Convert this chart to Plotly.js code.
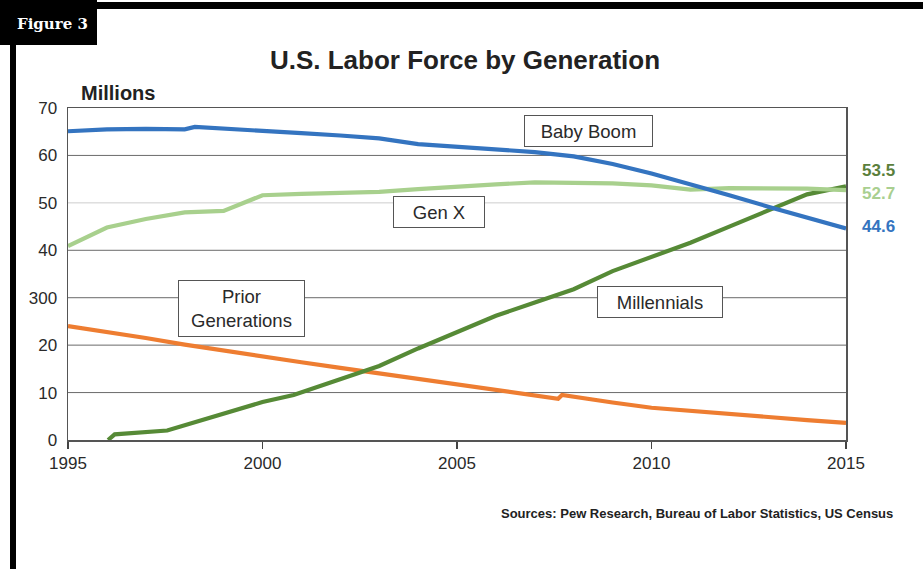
<!DOCTYPE html>
<html>
<head>
<meta charset="utf-8">
<script src="https://cdn.plot.ly/plotly-3.0.1.min.js"></script>
<style>
  html, body { margin: 0; padding: 0; background: #fff; }
  #chart { width: 923px; height: 569px; }
</style>
</head>
<body>
<div id="chart"></div>
<script>
// ---- Data ----
const boomYears   = [1995, 1996, 1997, 1998, 1998.26, 1999, 2000, 2001, 2002, 2003, 2004, 2005, 2006, 2007, 2008, 2009, 2010, 2011, 2012, 2013, 2014, 2015];
const boomValues  = [65.1, 65.5, 65.6, 65.5, 66.0, 65.7, 65.2, 64.7, 64.2, 63.6, 62.4, 61.8, 61.4, 60.7, 59.8, 58.2, 56.2, 54.0, 51.6, 49.2, 46.9, 44.6];

const genxYears   = [1995, 1996, 1997, 1998, 1999, 2000, 2001, 2002, 2003, 2004, 2005, 2006, 2007, 2008, 2009, 2010, 2011, 2012, 2013, 2014, 2015];
const genxValues  = [40.9, 44.8, 46.6, 48.0, 48.3, 51.6, 51.9, 52.1, 52.3, 52.9, 53.5, 53.9, 54.3, 54.3, 54.1, 53.7, 52.8, 53.1, 53.1, 53.0, 52.7];

const millYears   = [1996.03, 1996.2, 1997.55, 2000, 2000.8, 2002.5, 2003, 2004, 2005, 2006, 2007, 2008, 2009, 2010, 2011, 2012, 2013, 2014, 2015];
const millValues  = [0, 1.2, 2.0, 8.0, 9.5, 14.3, 15.6, 19.3, 22.8, 26.2, 29.0, 31.8, 35.6, 38.6, 41.6, 45.0, 48.5, 51.8, 53.5];

const priorYears  = [1995, 1996, 1997, 1998, 1999, 2000, 2001, 2002, 2003, 2004, 2005, 2006, 2007, 2007.6, 2007.7, 2008, 2009, 2010, 2011, 2012, 2013, 2014, 2015];
const priorValues = [24.0, 22.8, 21.5, 20.1, 18.8, 17.5, 16.4, 15.2, 14.0, 12.8, 11.6, 10.4, 9.3, 8.7, 9.5, 9.1, 7.9, 6.8, 6.1, 5.5, 4.8, 4.2, 3.6];

const xTickVals  = [1995, 2000, 2005, 2010, 2015];
const xTickText  = ['1995', '2000', '2005', '2010', '2015'];
const yTickVals  = [0, 10, 20, 30, 40, 50, 60, 70];
const yTickText  = ['0', '10', '20', '300', '40', '50', '60', '70'];
const endLabels  = ['53.5', '52.7', '44.6'];
const seriesNames = ['Baby Boom', 'Gen X', 'Millennials', 'Prior Generations'];

// ---- Styling ----
const C_BOOM = '#3474c0', C_GENX = '#a8d08d', C_MILL = '#568a36', C_PRIOR = '#ee7d31';
const FONT = 'Liberation Sans, Arial, sans-serif';

// pixel -> paper helpers for decorations
const L = 68, R = 846, T = 108, B = 440, W = 923, H = 569;
const fx = px => (px - L) / (R - L);
const fy = py => (B - py) / (B - T);

function line(x, y, color, name) {
  return { x: x, y: y, type: 'scatter', mode: 'lines', name: name,
           line: { color: color, width: 4.2 }, hoverinfo: 'x+y' };
}

const data = [
  line(priorYears, priorValues, C_PRIOR, seriesNames[3]),
  line(millYears, millValues, C_MILL, seriesNames[2]),
  line(genxYears, genxValues, C_GENX, seriesNames[1]),
  line(boomYears, boomValues, C_BOOM, seriesNames[0])
];

const shapes = [];
// gridlines (50 is lighter)
yTickVals.forEach(v => {
  if (v === 0 || v === 70) return;
  shapes.push({ type: 'line', xref: 'paper', x0: 0, x1: 1, yref: 'y', y0: v, y1: v,
    layer: 'below', line: { color: v === 50 ? '#cdcdcd' : '#6a6a6a', width: 1 } });
});
// figure frame decorations
shapes.push({ type: 'rect', xref: 'paper', yref: 'paper', x0: fx(0), x1: fx(W), y0: fy(9), y1: fy(2),
  fillcolor: '#000', line: { width: 0 } });
shapes.push({ type: 'rect', xref: 'paper', yref: 'paper', x0: fx(10), x1: fx(16), y0: fy(H), y1: fy(40),
  fillcolor: '#000', line: { width: 0 } });
shapes.push({ type: 'rect', xref: 'paper', yref: 'paper', x0: fx(0), x1: fx(97), y0: fy(45), y1: fy(0),
  fillcolor: '#000', line: { width: 0 } });

function boxLabel(text, x, y, w, h) {
  return { text: text, x: x, y: y, xref: 'x', yref: 'y', showarrow: false,
    font: { family: FONT, size: 18.5, color: '#2a2a2a' },
    bgcolor: '#fff', bordercolor: '#555', borderwidth: 1, borderpad: 4,
    width: w, height: h, align: 'center', valign: 'middle' };
}

const annotations = [
  boxLabel(seriesNames[0], 2008.37, 65.15, 119, 22),
  boxLabel(seriesNames[1], 2004.54, 48.07, 82, 22),
  boxLabel('Prior<br>Generations', 1999.45, 27.83, 117, 47),
  boxLabel(seriesNames[2], 2010.22, 29.1, 116, 22),
  { text: endLabels[0], x: 2015, y: 56.9, xref: 'x', yref: 'y', xanchor: 'left', xshift: 14, showarrow: false,
    font: { family: FONT, size: 17, color: '#5b7f3c', weight: 'bold' } },
  { text: endLabels[1], x: 2015, y: 51.9, xref: 'x', yref: 'y', xanchor: 'left', xshift: 14, showarrow: false,
    font: { family: FONT, size: 17, color: '#a9cf90', weight: 'bold' } },
  { text: endLabels[2], x: 2015, y: 45.1, xref: 'x', yref: 'y', xanchor: 'left', xshift: 14, showarrow: false,
    font: { family: FONT, size: 17, color: C_BOOM, weight: 'bold' } },
  { text: 'Millions', xref: 'paper', yref: 'paper', x: fx(79), y: fy(93), xanchor: 'left', yanchor: 'middle',
    showarrow: false, font: { family: FONT, size: 20, color: '#222', weight: 'bold' } },
  { text: 'Sources: Pew Research, Bureau of Labor Statistics, US Census', xref: 'paper', yref: 'paper',
    x: fx(895), y: fy(513), xanchor: 'right', yanchor: 'middle', showarrow: false,
    font: { family: FONT, size: 13, color: '#222', weight: 'bold' } },
  { text: 'Figure 3', xref: 'paper', yref: 'paper', x: fx(52), y: fy(24), xanchor: 'center', yanchor: 'middle',
    showarrow: false, font: { family: 'DejaVu Serif, serif', size: 15, color: '#fff', weight: 'bold' } }
];

const layout = {
  width: W, height: H,
  margin: { l: L, r: W - R, t: T, b: H - B, pad: 0 },
  paper_bgcolor: '#fff', plot_bgcolor: 'rgba(0,0,0,0)',
  showlegend: false,
  title: { text: 'U.S. Labor Force by Generation', x: 465 / W, xanchor: 'center',
           y: 1 - 60 / H, yanchor: 'middle', yref: 'container',
           font: { family: FONT, size: 26, color: '#222', weight: 'bold' } },
  xaxis: { range: [1995, 2015], tickvals: xTickVals, ticktext: xTickText,
           showgrid: false, zeroline: false, showline: true, mirror: true,
           linecolor: '#555', linewidth: 1.5, ticks: 'outside', ticklen: 7, tickcolor: '#444', tickwidth: 1.5,
           tickfont: { family: FONT, size: 17, color: '#2a2a2a' } },
  yaxis: { range: [0, 70], tickvals: yTickVals, ticktext: yTickText,
           showgrid: false, zeroline: false, showline: true, mirror: true,
           linecolor: '#555', linewidth: 1.5, ticks: '', ticklabelstandoff: 6,
           tickfont: { family: FONT, size: 17, color: '#2a2a2a' } },
  shapes: shapes,
  annotations: annotations
};

Plotly.newPlot('chart', data, layout, { displayModeBar: false, staticPlot: true });
</script>
</body>
</html>
